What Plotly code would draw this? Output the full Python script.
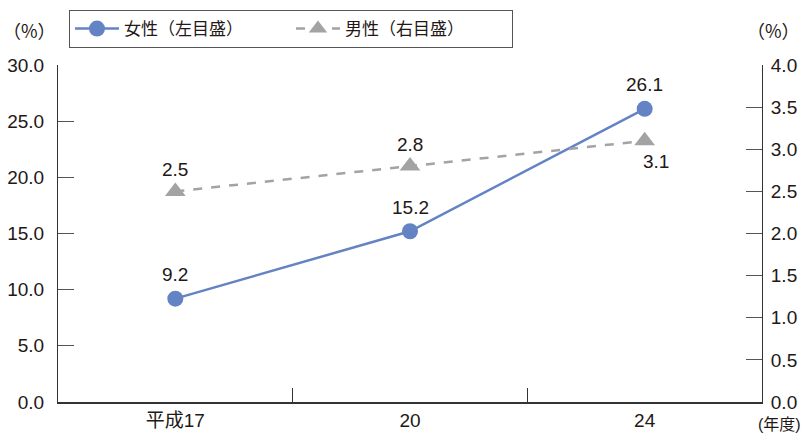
import plotly.graph_objects as go

# Survey years (Heisei era) and rates
years = ["平成17", "20", "24"]
female = [9.2, 15.2, 26.1]   # left axis (%)
male = [2.5, 2.8, 3.1]       # right axis (%)

left_ticks = [0, 5, 10, 15, 20, 25, 30]
right_ticks = [0, 0.5, 1.0, 1.5, 2.0, 2.5, 3.0, 3.5, 4.0]

FONT = "Liberation Sans, Arial, Noto Sans CJK JP, sans-serif"
CJK = "Noto Sans CJK JP, sans-serif"
BLUE = "#6383c4"
GRAY = "#a3a3a3"
TXT = "#231815"

fig = go.Figure()
fig.add_trace(go.Scatter(
    x=years, y=female, name="女性（左目盛）", mode="lines+markers",
    line=dict(color=BLUE, width=2.5),
    marker=dict(symbol="circle", size=16, color=BLUE),
    yaxis="y", cliponaxis=False,
))
fig.add_trace(go.Scatter(
    x=years, y=male, name="男性（右目盛）", mode="lines+markers",
    line=dict(color=GRAY, width=2.5, dash="dash"),
    marker=dict(symbol="triangle-up", size=18, color=GRAY),
    yaxis="y2", cliponaxis=False,
))

# value labels (category positions given by index)
for i, v in enumerate(female):
    fig.add_annotation(x=i, y=v, xref="x", yref="y", text=f"{v:.1f}", showarrow=False,
                       yshift=24, font=dict(size=19, color=TXT, family=FONT))
male_shift = [(0, 22), (0, 22), (11, -21)]
for i, ((xs, ys), v) in enumerate(zip(male_shift, male)):
    fig.add_annotation(x=i, y=v, xref="x", yref="y2", text=f"{v:.1f}", showarrow=False,
                       xshift=xs, yshift=ys, font=dict(size=19, color=TXT, family=FONT))

# unit labels
fig.add_annotation(x=-0.04, xref="paper", xanchor="center", y=1.104, yref="paper",
                   yanchor="middle", text="（%）", showarrow=False,
                   font=dict(size=18, color=TXT, family=CJK))
fig.add_annotation(x=1.057, xref="paper", xanchor="right", y=1.104, yref="paper",
                   yanchor="middle", text="（%）", showarrow=False,
                   font=dict(size=18, color=TXT, family=CJK))
fig.add_annotation(x=1.058, xref="paper", xanchor="right", y=-0.036, yref="paper",
                   yanchor="top", text="(年度)", showarrow=False,
                   font=dict(size=16, color=TXT, family=FONT))

fig.update_layout(
    width=803, height=438,
    margin=dict(l=58, r=41, t=65, b=36, autoexpand=False),
    paper_bgcolor="white", plot_bgcolor="white",
    font=dict(family=FONT, size=19, color=TXT),
    showlegend=True,
    legend=dict(
        orientation="h", x=0.0156, y=1.163, xanchor="left", yanchor="top",
        bordercolor="#555555", borderwidth=1, bgcolor="white",
        font=dict(size=17, color=TXT, family=CJK),
        entrywidth=162, entrywidthmode="pixels", itemwidth=44, tracegroupgap=0,
    ),
    xaxis=dict(
        type="category", range=[-0.5, 2.5], tickson="boundaries",
        ticks="inside", ticklen=14, tickcolor="#333333", tickwidth=1,
        showline=True, linecolor="#333333", linewidth=1.5,
        showgrid=False, zeroline=False, tickfont=dict(size=19),
    ),
    yaxis=dict(
        range=[0, 30], tickvals=left_ticks, ticktext=[f"{t:.1f}" for t in left_ticks],
        ticks="inside", ticklen=16, tickcolor="#555555", tickwidth=1,
        showline=True, mirror=True, linecolor="#333333", linewidth=1,
        showgrid=False, zeroline=False, tickfont=dict(size=19), ticklabelstandoff=9,
    ),
    yaxis2=dict(
        range=[0, 4], overlaying="y", side="right", anchor="x",
        tickvals=right_ticks, ticktext=[f"{t:.1f}" for t in right_ticks],
        ticks="inside", ticklen=16, tickcolor="#555555", tickwidth=1,
        showline=True, linecolor="#333333", linewidth=1,
        showgrid=False, zeroline=False, tickfont=dict(size=19), ticklabelstandoff=4,
    ),
)

fig.write_html("out.html")
